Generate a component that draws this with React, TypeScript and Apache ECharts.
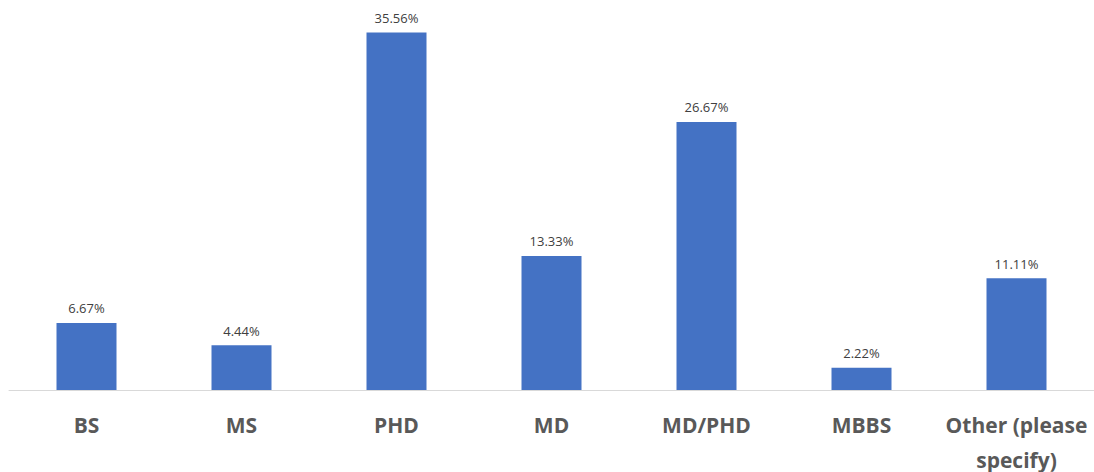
import React, { useEffect, useRef } from "react";
import * as echarts from "echarts";

const categories = ["BS", "MS", "PHD", "MD", "MD/PHD", "MBBS", "Other (please specify)"];
const values = [6.67, 4.44, 35.56, 13.33, 26.67, 2.22, 11.11];

export default function App() {
  const ref = useRef<HTMLDivElement>(null);
  useEffect(() => {
    if (!ref.current) return;
    const chart = echarts.init(ref.current, undefined, { renderer: "svg" });
    chart.setOption({
      animation: false,
      grid: { left: 9, right: 0, top: 8, bottom: 82, outerBoundsMode: "none", containLabel: false },
      xAxis: {
        type: "category",
        data: categories,
        axisLine: { lineStyle: { color: "#d9d9d9", width: 1 } },
        axisTick: { show: false },
        axisLabel: {
          interval: 0,
          margin: 17,
          fontFamily: "Open Sans",
          fontWeight: "bold",
          fontSize: 21,
          lineHeight: 35,
          color: "#595959",
          formatter: (v: string) => v.replace("Other (please ", "Other (please\n"),
        },
      },
      yAxis: {
        type: "value",
        min: 0,
        max: 38,
        show: false,
        splitLine: { show: false },
      },
      series: [
        {
          type: "bar",
          data: values,
          barWidth: 60,
          itemStyle: { color: "#4472C4" },
          label: {
            show: true,
            position: "top",
            distance: 8,
            fontFamily: "Open Sans",
            fontSize: 13,
            color: "#404040",
            formatter: (p: any) => p.value.toFixed(2) + "%",
          },
        },
      ],
    });
    return () => chart.dispose();
  }, []);
  return <div ref={ref} style={{ width: 1094, height: 472, position: "absolute", left: 0, top: 0 }} />;
}
